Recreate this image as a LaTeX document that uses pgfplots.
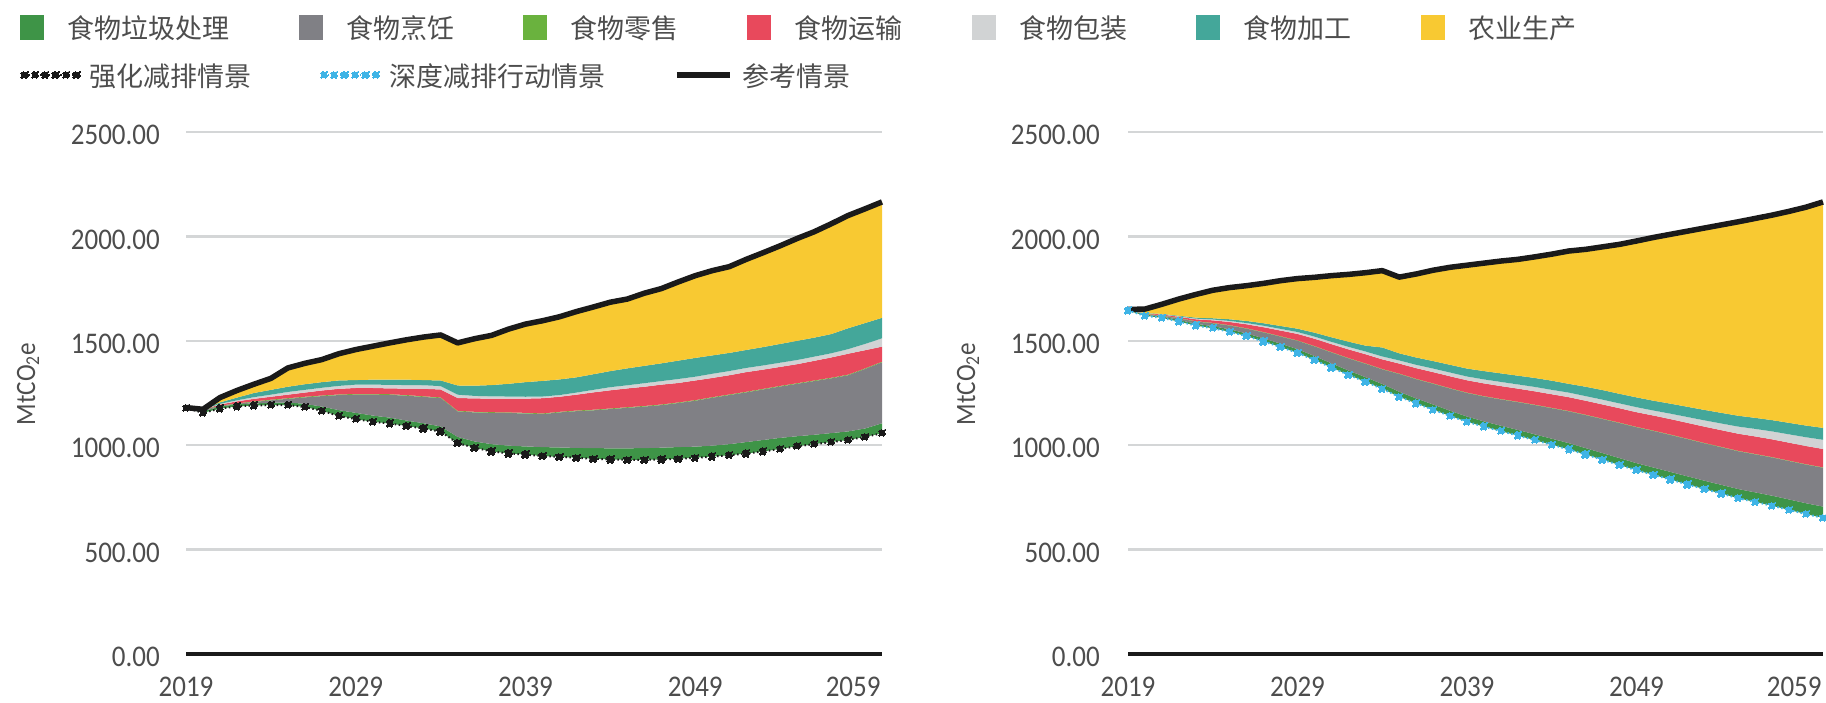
\documentclass[border=0pt]{standalone}
\usepackage{pgfplots}
\pgfplotsset{compat=1.18}
\usepackage{pgfplotstable}
\usepgfplotslibrary{fillbetween}
\usepackage{fontspec}
\setmainfont{Carlito}
\newfontfamily\tickfont{Carlito}[FakeStretch=0.9]
\newfontfamily\cjk{Noto Sans CJK SC}

\definecolor{cWaste}{HTML}{3E9447}
\definecolor{cCook}{HTML}{808085}
\definecolor{cRetail}{HTML}{6AB23E}
\definecolor{cTrans}{HTML}{E8495C}
\definecolor{cPack}{HTML}{D1D3D4}
\definecolor{cProc}{HTML}{44A79A}
\definecolor{cAgri}{HTML}{F8C932}
\definecolor{cBlue}{HTML}{3FB4E6}
\definecolor{cRef}{HTML}{1A1A1A}
\definecolor{txt}{HTML}{4D4D4D}
\definecolor{gridc}{HTML}{D4D6D7}

% Band boundaries (MtCO2e), bottom to top:
% b0 = scenario line, g = waste, gr = cooking, rt = retail,
% rd = transport, lg = packaging, te = processing, ref = reference
\pgfplotstableread{
yr b0 g gr rt rd lg te ref
2019 1178 1180 1180 1180 1180 1180 1180 1180
2020 1155 1162 1168 1170 1171 1171 1172 1172
2021 1175 1185 1188 1190 1195 1198 1205 1228
2022 1186 1196 1198 1200 1210 1215 1228 1262
2023 1190 1200 1207 1210 1222 1230 1250 1292
2024 1192 1203 1215 1218 1232 1242 1265 1320
2025 1192 1205 1222 1225 1242 1255 1280 1370
2026 1183 1198 1229 1232 1252 1265 1292 1392
2027 1165 1185 1235 1238 1262 1275 1302 1410
2028 1140 1168 1240 1243 1270 1284 1310 1438
2029 1125 1155 1242 1245 1274 1290 1312 1458
2030 1112 1142 1242 1245 1274 1290 1314 1474
2031 1104 1132 1241 1244 1272 1289 1314 1490
2032 1092 1118 1237 1240 1271 1288 1314 1505
2033 1080 1105 1231 1234 1270 1287 1312 1518
2034 1065 1090 1226 1229 1267 1283 1310 1528
2035 1010 1040 1162 1165 1226 1242 1286 1490
2036  988 1018 1157 1160 1224 1236 1285 1510
2037  970 1005 1155 1158 1223 1234 1288 1526
2038  961  998 1154 1157 1223 1233 1294 1556
2039  955  994 1152 1155 1223 1232 1302 1580
2040  948  991 1149 1152 1225 1233 1308 1596
2041  944  989 1157 1160 1232 1240 1315 1615
2042  940  987 1163 1166 1242 1252 1325 1640
2043  935  986 1167 1170 1253 1265 1340 1662
2044  932  985 1173 1176 1263 1278 1355 1685
2045  930  985 1179 1182 1272 1287 1368 1700
2046  930  986 1185 1188 1280 1297 1380 1728
2047  932  988 1192 1195 1290 1307 1392 1750
2048  935  991 1202 1205 1298 1317 1405 1782
2049  940  993 1213 1216 1310 1328 1418 1812
2050  945  998 1227 1230 1322 1342 1430 1836
2051  952 1005 1240 1243 1335 1355 1442 1855
2052  960 1015 1253 1256 1350 1370 1456 1890
2053  970 1025 1267 1270 1362 1382 1470 1922
2054  982 1035 1281 1284 1375 1395 1485 1955
2055  995 1043 1294 1297 1388 1408 1500 1990
2056 1005 1050 1307 1310 1404 1424 1515 2022
2057 1015 1058 1320 1323 1420 1440 1532 2060
2058 1025 1066 1335 1338 1438 1460 1560 2100
2059 1040 1080 1365 1368 1455 1485 1585 2132
2060 1057 1105 1397 1400 1472 1512 1610 2165
}\strongdata

\pgfplotstableread{
yr b0 g gr rt rd lg te ref
2019 1645 1648 1648 1648 1648 1648 1649 1650
2020 1620 1625 1627 1629 1631 1632 1633 1652
2021 1610 1616 1620 1622 1626 1627 1629 1675
2022 1592 1600 1607 1609 1615 1617 1620 1700
2023 1573 1582 1592 1594 1603 1606 1611 1722
2024 1560 1570 1584 1586 1598 1602 1608 1742
2025 1543 1555 1573 1575 1590 1595 1603 1755
2026 1522 1535 1558 1560 1579 1585 1595 1764
2027 1497 1512 1540 1542 1565 1572 1584 1775
2028 1470 1486 1520 1522 1549 1557 1571 1788
2029 1442 1460 1500 1502 1533 1542 1558 1798
2030 1408 1427 1473 1475 1510 1520 1539 1804
2031 1372 1392 1444 1446 1484 1495 1517 1812
2032 1337 1358 1416 1418 1459 1471 1496 1818
2033 1304 1326 1390 1392 1436 1449 1477 1826
2034 1270 1293 1363 1365 1411 1425 1468 1836
2035 1232 1256 1341 1343 1391 1406 1440 1805
2036 1200 1224 1316 1318 1369 1385 1420 1820
2037 1170 1195 1294 1296 1350 1367 1403 1838
2038 1140 1165 1271 1273 1330 1348 1385 1852
2039 1112 1137 1250 1252 1311 1329 1367 1862
2040 1089 1114 1233 1235 1296 1315 1355 1872
2041 1067 1093 1219 1221 1283 1303 1344 1882
2042 1046 1073 1206 1208 1271 1291 1333 1890
2043 1024 1052 1192 1194 1258 1279 1322 1902
2044 1002 1031 1177 1179 1244 1265 1309 1915
2045  980 1010 1162 1164 1230 1252 1294 1930
2046  955  986 1144 1146 1213 1235 1280 1938
2047  930  962 1125 1127 1195 1218 1264 1950
2048  905  938 1106 1108 1177 1200 1246 1962
2049  880  914 1086 1088 1158 1182 1229 1978
2050  858  893 1068 1070 1142 1166 1213 1995
2051  835  872 1049 1051 1125 1151 1199 2010
2052  812  851 1029 1031 1107 1135 1184 2025
2053  790  830 1009 1011 1089 1119 1169 2040
2054  768  810  990  992 1072 1104 1155 2055
2055  746  790  971  973 1055 1089 1141 2070
2056  728  774  956  958 1042 1078 1131 2086
2057  710  758  941  943 1028 1066 1120 2102
2058  690  740  924  926 1012 1052 1107 2120
2059  670  722  907  909  996 1038 1094 2140
2060  652  706  892  894  982 1026 1083 2165
}\deepdata

\tikzset{
  refline/.style={cRef, line width=5.5pt, line join=round},
  dotline/.style={line width=2pt, dash pattern=on 1.5pt off 2.5pt,
    mark=square*, mark size=3.2pt, mark options={solid, rotate=45, line width=0.5pt}},
}

\pgfplotsset{
  food/.style={
    scale only axis, height=522pt,
    xmin=2019, xmax=2060, ymin=0, ymax=2500,
    axis line style={draw=none},
    tick style={draw=none}, major tick length=0pt,
    xtick={2019,2029,2039,2049,2058.3},
    xticklabels={2019,2029,2039,2049,2059},
    ytick={500,1000,1500,2000,2500},
    yticklabels={500.00,1000.00,1500.00,2000.00,2500.00},
    extra y ticks={0}, extra y tick labels={0.00},
    extra y tick style={major grid style={cRef, line width=3.5pt}},
    ymajorgrids, xmajorgrids=false,
    major grid style={gridc, line width=2.5pt},
    tick label style={font=\tickfont\fontsize{30pt}{34pt}\selectfont, text=txt, inner sep=0pt},
    xticklabel style={anchor=north, yshift=-23pt},
    ylabel={MtCO\textsubscript{2}e},
    ylabel style={font=\tickfont\fontsize{28pt}{32pt}\selectfont, text=txt, anchor=center},
    clip=false,
    legend style={draw=none, fill=none, inner sep=0pt,
      font=\cjk\fontsize{27pt}{30pt}\selectfont, text=txt,
      cells={anchor=west}, nodes={inner sep=0pt, text depth=0pt}},
  },
  swatch/.style={legend image code/.code={\fill[#1] (0pt,-12pt) rectangle (23pt,12pt);}},
}

\begin{document}
\begin{tikzpicture}

% Strengthened mitigation scenario
\begin{axis}[food, at={(186pt,48pt)}, anchor=south west, width=696pt,
  yticklabel style={anchor=east, xshift=-26pt, yshift=-3pt},
  ylabel style={at={(axis description cs:-0.2270,0.517)}},
  legend columns=7,
  legend style={at={(axis description cs:-0.2385,1.2011)}, anchor=west,
    /tikz/every odd column/.append style={column sep=24pt},
    /tikz/every even column/.append style={column sep=69pt}},
  ]
  \addlegendimage{swatch=cWaste}  \addlegendentry{食物垃圾处理}
  \addlegendimage{swatch=cCook}   \addlegendentry{食物烹饪}
  \addlegendimage{swatch=cRetail} \addlegendentry{食物零售}
  \addlegendimage{swatch=cTrans}  \addlegendentry{食物运输}
  \addlegendimage{swatch=cPack}   \addlegendentry{食物包装}
  \addlegendimage{swatch=cProc}   \addlegendentry{食物加工}
  \addlegendimage{swatch=cAgri}   \addlegendentry{农业生产}

  \addplot[draw=none, forget plot, name path=A0] table[x=yr, y=b0] {\strongdata};
  \addplot[draw=none, forget plot, name path=A1] table[x=yr, y=g]  {\strongdata};
  \addplot[draw=none, forget plot, name path=A2] table[x=yr, y=gr] {\strongdata};
  \addplot[draw=none, forget plot, name path=A3] table[x=yr, y=rt] {\strongdata};
  \addplot[draw=none, forget plot, name path=A4] table[x=yr, y=rd] {\strongdata};
  \addplot[draw=none, forget plot, name path=A5] table[x=yr, y=lg] {\strongdata};
  \addplot[draw=none, forget plot, name path=A6] table[x=yr, y=te] {\strongdata};
  \addplot[draw=none, forget plot, name path=A7] table[x=yr, y=ref]{\strongdata};
  \addplot[fill=cWaste,  draw=none, forget plot] fill between[of=A1 and A0];
  \addplot[fill=cCook,   draw=none, forget plot] fill between[of=A2 and A1];
  \addplot[fill=cRetail, draw=none, forget plot] fill between[of=A3 and A2];
  \addplot[fill=cTrans,  draw=none, forget plot] fill between[of=A4 and A3];
  \addplot[fill=cPack,   draw=none, forget plot] fill between[of=A5 and A4];
  \addplot[fill=cProc,   draw=none, forget plot] fill between[of=A6 and A5];
  \addplot[fill=cAgri,   draw=none, forget plot] fill between[of=A7 and A6];
  \addplot[refline, forget plot] table[x=yr, y=ref] {\strongdata};
  \addplot[dotline, cRef, mark options={fill=cRef}, forget plot] table[x=yr, y=b0] {\strongdata};
\end{axis}

% Deep mitigation action scenario
\begin{axis}[food, at={(1128pt,48pt)}, anchor=south west, width=695pt,
  yticklabel style={anchor=east, xshift=-28pt, yshift=-3pt},
  ylabel style={at={(axis description cs:-0.2302,0.517)}},
  legend columns=3,
  legend style={at={(axis description cs:-1.5928,1.1092)}, anchor=west,
    /tikz/every odd column/.append style={column sep=10pt},
    /tikz/every even column/.append style={column sep=69pt}},
  ]
  \addlegendimage{legend image code/.code={%
    \draw[dotline, cRef, mark options={fill=cRef}] plot coordinates
      {(4.5pt,0pt) (14.9pt,0pt) (25.3pt,0pt) (35.7pt,0pt) (46.1pt,0pt) (56.5pt,0pt)};}}
  \addlegendentry{强化减排情景}
  \addlegendimage{legend image code/.code={%
    \draw[dotline, cBlue, mark options={fill=cBlue}] plot coordinates
      {(4.5pt,0pt) (14.9pt,0pt) (25.3pt,0pt) (35.7pt,0pt) (46.1pt,0pt) (56.5pt,0pt)};}}
  \addlegendentry{深度减排行动情景}
  \addlegendimage{legend image code/.code={%
    \draw[refline] (0pt,0pt) -- (53pt,0pt);}}
  \addlegendentry{参考情景}

  \addplot[draw=none, forget plot, name path=B0] table[x=yr, y=b0] {\deepdata};
  \addplot[draw=none, forget plot, name path=B1] table[x=yr, y=g]  {\deepdata};
  \addplot[draw=none, forget plot, name path=B2] table[x=yr, y=gr] {\deepdata};
  \addplot[draw=none, forget plot, name path=B3] table[x=yr, y=rt] {\deepdata};
  \addplot[draw=none, forget plot, name path=B4] table[x=yr, y=rd] {\deepdata};
  \addplot[draw=none, forget plot, name path=B5] table[x=yr, y=lg] {\deepdata};
  \addplot[draw=none, forget plot, name path=B6] table[x=yr, y=te] {\deepdata};
  \addplot[draw=none, forget plot, name path=B7] table[x=yr, y=ref]{\deepdata};
  \addplot[fill=cWaste,  draw=none, forget plot] fill between[of=B1 and B0];
  \addplot[fill=cCook,   draw=none, forget plot] fill between[of=B2 and B1];
  \addplot[fill=cRetail, draw=none, forget plot] fill between[of=B3 and B2];
  \addplot[fill=cTrans,  draw=none, forget plot] fill between[of=B4 and B3];
  \addplot[fill=cPack,   draw=none, forget plot] fill between[of=B5 and B4];
  \addplot[fill=cProc,   draw=none, forget plot] fill between[of=B6 and B5];
  \addplot[fill=cAgri,   draw=none, forget plot] fill between[of=B7 and B6];
  \addplot[refline, forget plot] table[x=yr, y=ref] {\deepdata};
  \addplot[dotline, cBlue, mark options={fill=cBlue}, forget plot] table[x=yr, y=b0] {\deepdata};
\end{axis}

% page frame
\pgfresetboundingbox
\useasboundingbox (0pt,0pt) rectangle (1826pt,702pt);
\end{tikzpicture}
\end{document}
